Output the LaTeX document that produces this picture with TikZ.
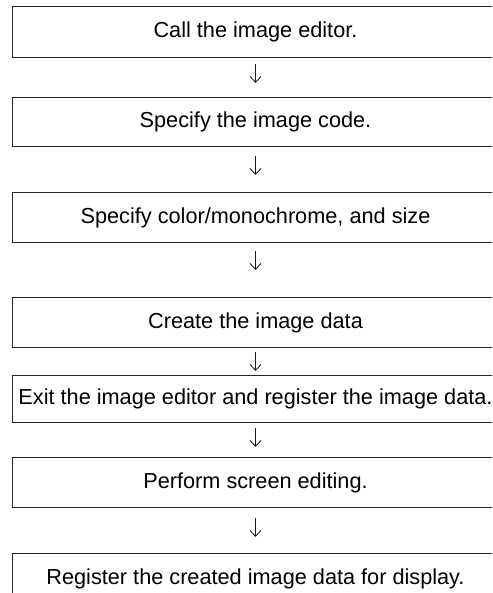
\documentclass[tikz,border=0pt]{standalone}
\usepackage{fontspec}
\setmainfont{Liberation Sans}
\usetikzlibrary{arrows.meta}
\begin{document}
\begin{tikzpicture}[x=1pt,y=1pt,
  box/.style={draw=black!85, line width=1pt, minimum width=486pt, inner sep=0pt,
    anchor=north west, font=\fontsize{21.7}{26}\selectfont},
  flowarrow/.style={draw=black!90, line width=0.8pt, -{Straight Barb[length=6pt,width=11pt]}}]
\useasboundingbox (0,0) rectangle (492,-593);
\clip (0,0) rectangle (492,-593);
\node[box, minimum height=51pt] (b1) at (12,-6) {Call the image editor.};
\node[box, minimum height=49pt] (b2) at (12,-97) {Specify the image code.};
\node[box, minimum height=50pt] (b3) at (12,-192) {Specify color/monochrome, and size};
\node[box, minimum height=50pt] (b4) at (12,-297) {Create the image data};
\node[box, minimum height=47pt] (b5) at (12,-375) {Exit the image editor and register the image data.};
\node[box, minimum height=50pt] (b6) at (12,-457) {Perform screen editing.};
\node[box, minimum height=50pt] (b7) at (12,-553) {Register the created image data for display.};
\draw[flowarrow, shorten <=6pt, shorten >=14pt] (b1.south) -- (b2.north);
\draw[flowarrow, shorten <=9pt, shorten >=17pt] (b2.south) -- (b3.north);
\draw[flowarrow, shorten <=8pt, shorten >=27pt] (b3.south) -- (b4.north);
\draw[flowarrow, shorten <=4pt, shorten >=4pt] (b4.south) -- (b5.north);
\draw[flowarrow, shorten <=5pt, shorten >=10pt] (b5.south) -- (b6.north);
\draw[flowarrow, shorten <=10pt, shorten >=16pt] (b6.south) -- (b7.north);
\end{tikzpicture}
\end{document}
